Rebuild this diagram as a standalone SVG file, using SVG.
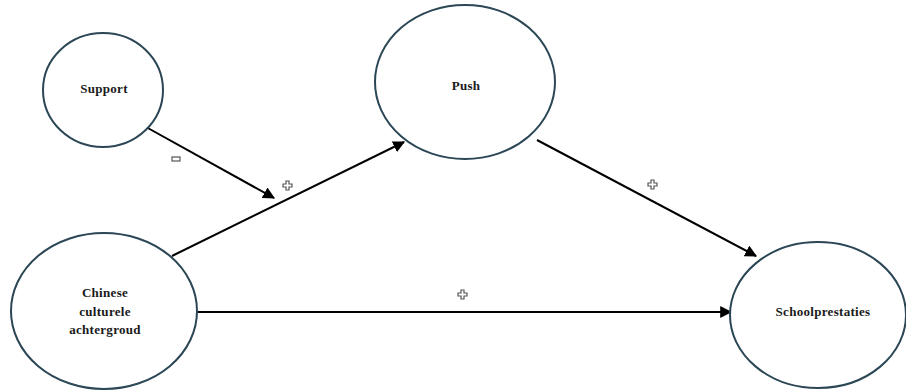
<svg xmlns="http://www.w3.org/2000/svg" width="906" height="391" viewBox="0 0 906 391">
  <defs>
    <marker id="arrow" viewBox="0 0 10 10" refX="9" refY="5" markerWidth="6" markerHeight="6" markerUnits="strokeWidth" orient="auto">
      <path d="M0,0 L10,5 L0,10 z" fill="#000"/>
    </marker>
    <style>
      .node { fill: #fff; stroke: #2b4655; stroke-width: 2; }
      .lbl { font-family: "Liberation Serif", "Times New Roman", serif; font-weight: bold; font-size: 13px; letter-spacing: 0.3px; fill: #1a1a1a; text-anchor: middle; }
      .edge { stroke: #000; stroke-width: 2; fill: none; }
      .sign { fill: #fff; stroke: #555; stroke-width: 1.2; }
    </style>
  </defs>

  <rect width="906" height="391" fill="#fff"/>

  <!-- connectors -->
  <g id="connectors">
    <line class="edge" x1="146" y1="127" x2="274" y2="198" marker-end="url(#arrow)"/>
    <line class="edge" x1="172" y1="256" x2="404" y2="142" marker-end="url(#arrow)"/>
    <line class="edge" x1="537" y1="140" x2="756" y2="256" marker-end="url(#arrow)"/>
    <line class="edge" x1="197" y1="312" x2="731" y2="312" marker-end="url(#arrow)"/>
    <!-- sign markers on the paths -->
    <rect class="sign" x="172" y="157" width="8" height="4"/>
    <path class="sign" d="M286,181 h3 v3 h3 v3 h-3 v3 h-3 v-3 h-3 v-3 h3 z"/>
    <path class="sign" d="M651,180 h3 v3 h3 v3 h-3 v3 h-3 v-3 h-3 v-3 h3 z"/>
    <path class="sign" d="M461,290 h3 v3 h3 v3 h-3 v3 h-3 v-3 h-3 v-3 h3 z"/>
  </g>

  <g id="support">
    <ellipse class="node" cx="103" cy="90" rx="60" ry="57"/>
    <text class="lbl" x="104" y="93">Support</text>
  </g>

  <g id="push">
    <ellipse class="node" cx="465" cy="82" rx="90" ry="77"/>
    <text class="lbl" x="466" y="90">Push</text>
  </g>

  <g id="chinese">
    <ellipse class="node" cx="104" cy="311" rx="93" ry="78"/>
    <text class="lbl" x="105" y="297">Chinese</text>
    <text class="lbl" x="105" y="316">culturele</text>
    <text class="lbl" x="105" y="334">achtergroud</text>
  </g>

  <g id="schoolprestaties">
    <ellipse class="node" cx="818" cy="315" rx="88" ry="73"/>
    <text class="lbl" x="823" y="316">Schoolprestaties</text>
  </g>
</svg>
